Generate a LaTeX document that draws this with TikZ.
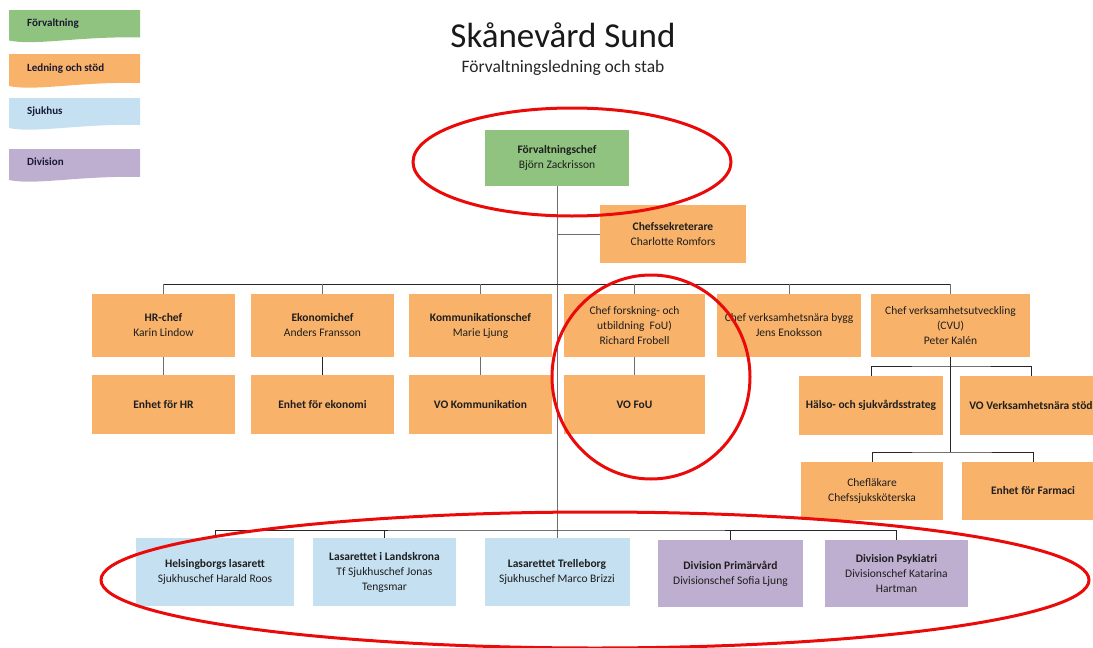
\documentclass[tikz,border=0pt]{standalone}
\usepackage{fontspec}
\setmainfont{Carlito}
\definecolor{grC}{RGB}{143,195,127}
\definecolor{orC}{RGB}{248,178,106}
\definecolor{blC}{RGB}{197,224,241}
\definecolor{puC}{RGB}{190,174,208}
\definecolor{lnC}{RGB}{110,110,110}
\definecolor{txC}{RGB}{30,30,30}
\definecolor{lgC}{RGB}{25,25,50}
\definecolor{ringC}{RGB}{235,10,10}
\newcommand\legendwave[3]{\fill[#1] (9,#2) -- (140,#2) -- (140,{#3-3}) .. controls (80,{#3-4.5}) and (35,{#3+5.5}) .. (9,#3) -- cycle;}
\begin{document}
\begin{tikzpicture}[x=1pt,y=-1pt,
  box/.style={rectangle, draw=none, align=center, text=txC, inner sep=1pt,
    font=\fontsize{11.5}{15}\selectfont},
  grbox/.style={box, fill=grC},
  orbox/.style={box, fill=orC},
  blbox/.style={box, fill=blC},
  pubox/.style={box, fill=puC},
  vline/.style={draw=lnC, line width=1pt},
  busline/.style={draw=black!85, line width=1pt},
  ring/.style={draw=ringC, line width=3pt},
  legtext/.style={anchor=west, text=lgC, font=\fontsize{11}{13}\selectfont\bfseries, inner sep=0pt}]
\useasboundingbox (0,0) rectangle (1093,648);

% legend
\legendwave{grC}{10}{40.5}
\legendwave{orC}{54}{86}
\legendwave{blC}{98}{128}
\legendwave{puC}{149}{180}
\node[legtext] (lg1) at (27,23.5) {Förvaltning};
\node[legtext] (lg2) at (27,69) {Ledning och stöd};
\node[legtext] (lg3) at (27,112) {Sjukhus};
\node[legtext] (lg4) at (27,162) {Division};

% title
\node[text=black!90, inner sep=0pt] (title) at (563,35) {\fontsize{35}{35}\selectfont Skånevård Sund};
\node[text=black!85, inner sep=0pt] (subtitle) at (563,68) {\fontsize{17.5}{17.5}\selectfont Förvaltningsledning och stab};

% top
\node[grbox, minimum width=144pt, minimum height=56pt] (fc) at (557,158) {\textbf{Förvaltningschef}\\Björn Zackrisson};
\node[orbox, minimum width=146pt, minimum height=58pt] (cs) at (673,234) {\textbf{Chefssekreterare}\\Charlotte Romfors};

% row 1
\node[orbox, minimum width=143pt, minimum height=63pt] (hr) at (163.5,325.5) {\textbf{HR-chef}\\Karin Lindow};
\node[orbox, minimum width=143pt, minimum height=63pt] (ek) at (322.5,325.5) {\textbf{Ekonomichef}\\Anders Fransson};
\node[orbox, minimum width=143pt, minimum height=63pt] (kom) at (480.5,325.5) {\textbf{Kommunikationschef}\\Marie Ljung};
\node[orbox, minimum width=141pt, minimum height=63pt] (fou) at (634.5,325.5) {Chef forskning- och\\utbildning\ \ FoU)\\Richard Frobell};
\node[orbox, minimum width=144pt, minimum height=63pt] (bygg) at (789,325.5) {Chef verksamhetsnära bygg\\Jens Enoksson};
\node[orbox, minimum width=159pt, minimum height=63pt] (cvu) at (950.5,325.5) {Chef verksamhetsutveckling\\(CVU)\\Peter Kalén};

% row 2
\node[orbox, minimum width=143pt, minimum height=59pt] (ehr) at (163.5,404.5) {\textbf{Enhet för HR}};
\node[orbox, minimum width=143pt, minimum height=59pt] (eek) at (322.5,404.5) {\textbf{Enhet för ekonomi}};
\node[orbox, minimum width=143pt, minimum height=59pt] (vok) at (480.5,404.5) {\textbf{VO Kommunikation}};
\node[orbox, minimum width=141pt, minimum height=59pt] (vofou) at (634.5,404.5) {\textbf{VO FoU}};
\node[orbox, minimum width=144pt, minimum height=59pt] (hs) at (871,405.5) {\textbf{Hälso- och sjukvårdsstrateg}};
\node[orbox, minimum width=142pt, minimum height=59pt] (vov) at (1031,405.5) {\textbf{VO Verksamhetsnära stöd}};
\node[orbox, minimum width=142pt, minimum height=58pt] (cl) at (872,491) {Chefläkare\\Chefssjuksköterska};
\node[orbox, minimum width=142pt, minimum height=58pt] (fa) at (1033,491) {\textbf{Enhet för Farmaci}};

% bottom
\node[blbox, minimum width=158pt, minimum height=68pt] (hb) at (215,572) {\textbf{Helsingborgs lasarett}\\Sjukhuschef Harald Roos};
\node[blbox, minimum width=143pt, minimum height=68pt] (lk) at (384.5,572) {\textbf{Lasarettet i Landskrona}\\Tf Sjukhuschef Jonas\\Tengsmar};
\node[blbox, minimum width=145pt, minimum height=68pt] (tr) at (557,572) {\textbf{Lasarettet Trelleborg}\\Sjukhuschef Marco Brizzi};
\node[pubox, minimum width=145pt, minimum height=67pt] (pv) at (730.5,573.5) {\textbf{Division Primärvård}\\Divisionschef Sofia Ljung};
\node[pubox, minimum width=143pt, minimum height=67pt] (ps) at (896.5,573.5) {\textbf{Division Psykiatri}\\Divisionschef Katarina\\Hartman};

% connectors
\coordinate (b1) at (557,284);
\coordinate (b2) at (951,366);
\coordinate (b3) at (951,452);
\coordinate (b4) at (557,530);
\draw[vline] (fc.south) -- (fc.south |- tr.north);
\draw[vline] (cs.west) -- (cs.west -| fc.south);
\draw[busline] (hr.north |- b1) -- (cvu.north |- b1);
\foreach \n in {hr,ek,kom,fou,bygg,cvu} \draw[vline] (\n.north) -- (\n.north |- b1);
\draw[vline] (hr.south) -- (ehr.north);
\draw[busline] (ek.south) -- (eek.north);
\draw[vline] (kom.south) -- (vok.north);
\draw[vline] (fou.south) -- (vofou.north);
\draw[busline] (cvu.south) -- (cvu.south |- b3);
\draw[busline] (hs.north) |- (b2) -| (vov.north);
\draw[busline] (cl.north) |- (b3) -| (fa.north);
\draw[busline] (hb.north) |- (b4) -| (ps.north);
\draw[busline] (lk.north) -- (lk.north |- b4);
\draw[busline] (pv.north) -- (pv.north |- b4);

% red rings
\draw[ring] (572,162) ellipse [x radius=159, y radius=54];
\draw[ring] (651,377) ellipse [x radius=99, y radius=102];
\draw[ring] (595,580) ellipse [x radius=494, y radius=68];
\end{tikzpicture}
\end{document}
